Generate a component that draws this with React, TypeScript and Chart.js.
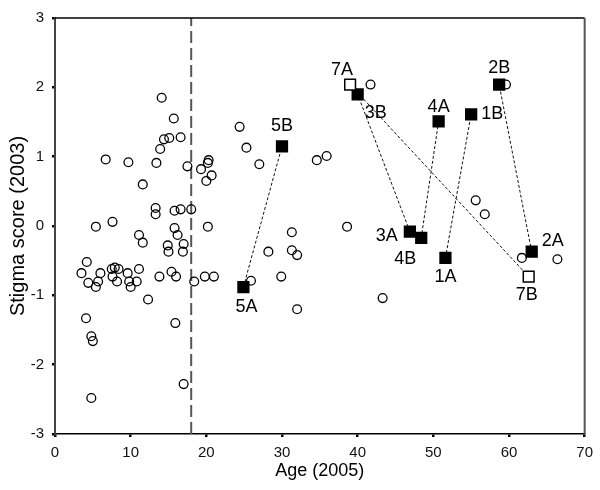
import React, { useEffect, useRef } from "react";
import { Chart, registerables } from "chart.js";

Chart.register(...registerables);

// Open circles: all respondents
const circleAges = [
  14.1, 15.7, 24.4, 14.4, 15.1, 16.6, 25.3, 13.9, 6.7, 9.7, 13.4, 17.5, 20.3, 20.2, 19.3, 20.7, 20.0, 11.6,
  13.3, 13.3, 15.8, 16.6, 18.0, 5.4, 7.6, 15.8, 20.2, 11.1, 11.6, 16.2, 14.9, 15.0, 17.0, 16.9,
  4.2, 3.5, 4.4, 5.4, 5.7, 6.0, 7.5, 7.9, 8.4, 7.6, 8.2, 9.6, 9.8, 10.0, 10.8, 11.1, 12.3, 13.8, 15.4, 16.0,
  15.9, 4.1, 4.8, 5.0, 4.8, 17.0, 18.4, 19.8, 21.0,
  27.0, 34.6, 35.9, 41.7, 31.3, 38.6, 28.2, 31.3, 32.0, 29.9, 25.9, 32.0, 43.3,
  59.6, 55.6, 56.8, 61.7, 66.4,
];
const circleScores = [
  1.85, 1.55, 1.43, 1.25, 1.27, 1.28, 1.13, 1.11, 0.96, 0.92, 0.91, 0.86, 0.95, 0.91, 0.82, 0.73, 0.65, 0.6,
  0.26, 0.17, 0.22, 0.24, 0.24, -0.01, 0.06, -0.03, -0.01, -0.13, -0.24, -0.13, -0.28, -0.37, -0.26, -0.37,
  -0.52, -0.68, -0.82, -0.88, -0.8, -0.68, -0.62, -0.6, -0.62, -0.73, -0.8, -0.68, -0.8, -0.88, -0.8, -0.62, -1.06, -0.73, -0.66, -0.73,
  -1.4, -1.33, -1.59, -1.66, -2.48, -2.28, -0.8, -0.73, -0.73,
  0.89, 0.95, 1.01, 2.04, -0.09, -0.01, -0.37, -0.35, -0.42, -0.73, -0.79, -1.2, -1.04,
  2.04, 0.37, 0.17, -0.46, -0.48,
];

// Paired cases (A and B)
const pairIds = ["1", "2", "3", "4", "5", "7"];
const ageA = [51.6, 63.0, 46.9, 50.7, 24.9, 39.0];
const scoreA = [-0.46, -0.37, -0.08, 1.51, -0.88, 2.04];
const ageB = [55.0, 58.7, 40.0, 48.4, 30.0, 62.6];
const scoreB = [1.61, 2.04, 1.9, -0.17, 1.15, -0.73];
const openPairs = ["7"];

const cutoffAge = 18;
const xTicks = [0, 10, 20, 30, 40, 50, 60, 70];
const yTicks = [-3, -2, -1, 0, 1, 2, 3];

// label offsets in pixels (style)
const labelOffA: Record<string, [number, number]> = {
  "1": [0, 19], "2": [21, -11], "3": [-23, 4], "4": [0, -14], "5": [3, 20], "7": [-8, -15],
};
const labelOffB: Record<string, [number, number]> = {
  "1": [21, 0], "2": [0, -17], "3": [18, 19], "4": [-16, 21], "5": [0, -20], "7": [-2, 18],
};

const FONT = "'Liberation Sans', Arial, Helvetica, sans-serif";

export default function App() {
  const ref = useRef<HTMLCanvasElement>(null);
  useEffect(() => {
    const canvas = ref.current!;
    const squarePts: any[] = [];
    const squareFill: string[] = [];
    const squareLabels: { name: string; off: [number, number] }[] = [];
    pairIds.forEach((id, i) => {
      const open = openPairs.includes(id);
      squarePts.push({ x: ageA[i], y: scoreA[i] });
      squareFill.push(open ? "#fff" : "#000");
      squareLabels.push({ name: id + "A", off: labelOffA[id] });
      squarePts.push({ x: ageB[i], y: scoreB[i] });
      squareFill.push(open ? "#fff" : "#000");
      squareLabels.push({ name: id + "B", off: labelOffB[id] });
    });

    const lineSets = pairIds.map((id, i) => ({
      type: "line" as const,
      data: [
        { x: ageA[i], y: scoreA[i] },
        { x: ageB[i], y: scoreB[i] },
      ],
      showLine: true,
      borderColor: "#111",
      borderWidth: 1,
      borderDash: [3, 2],
      pointRadius: 0,
      fill: false,
    }));

    const frame = {
      id: "frame",
      afterDatasetsDraw(chart: any) {
        const { ctx, chartArea: a } = chart;
        ctx.save();
        ctx.strokeStyle = "#000";
        ctx.lineWidth = 1.5;
        ctx.beginPath();
        ctx.moveTo(a.left, a.top);
        ctx.lineTo(a.right, a.top);
        ctx.stroke();
        ctx.strokeStyle = "#555";
        ctx.lineWidth = 2;
        ctx.beginPath();
        ctx.moveTo(a.right, a.top);
        ctx.lineTo(a.right, a.bottom);
        ctx.stroke();
        ctx.restore();
      },
    };

    const labels = {
      id: "pointLabels",
      afterDatasetsDraw(chart: any) {
        const { ctx } = chart;
        const xs = chart.scales.x;
        const ys = chart.scales.y;
        ctx.save();
        ctx.font = `18px ${FONT}`;
        ctx.fillStyle = "#000";
        ctx.textAlign = "center";
        ctx.textBaseline = "middle";
        squarePts.forEach((p, i) => {
          const px = xs.getPixelForValue(p.x);
          const py = ys.getPixelForValue(p.y);
          const o = squareLabels[i].off;
          ctx.fillText(squareLabels[i].name, px + o[0], py + o[1]);
        });
        ctx.restore();
      },
    };

    const chart = new Chart(canvas, {
      type: "scatter",
      data: {
        datasets: [
          {
            data: squarePts,
            pointStyle: "rect",
            pointRadius: 7.6,
            backgroundColor: squareFill,
            borderColor: "#000",
            borderWidth: 1.5,
          } as any,
          {
            data: circleAges.map((a, i) => ({ x: a, y: circleScores[i] })),
            pointStyle: "circle",
            pointRadius: 4.4,
            backgroundColor: "rgba(0,0,0,0)",
            borderColor: "#000",
            borderWidth: 1.3,
          },
          ...lineSets,
          {
            type: "line",
            data: [
              { x: cutoffAge, y: -3 },
              { x: cutoffAge, y: 3 },
            ],
            showLine: true,
            borderColor: "#555",
            borderWidth: 2,
            borderDash: [12, 5],
            pointRadius: 0,
          } as any,
        ],
      },
      options: {
        animation: false,
        responsive: false,
        events: [],
        layout: { padding: { top: 18, right: 14, left: 0, bottom: 0 } },
        plugins: { legend: { display: false }, tooltip: { enabled: false } },
        scales: {
          x: {
            type: "linear",
            min: 0,
            max: 70,
            afterBuildTicks: (s: any) => {
              s.ticks = xTicks.map((v) => ({ value: v }));
            },
            afterFit: (s: any) => {
              s.height = 56;
            },
            ticks: { font: { family: FONT, size: 15 }, color: "#111", padding: 7 },
            grid: { display: true, drawOnChartArea: false, drawTicks: true, tickLength: 3, color: "#000", lineWidth: 2.5 },
            border: { display: true, color: "#000", width: 1.5 },
            title: {
              display: true,
              text: "Age (2005)",
              font: { family: FONT, size: 18 },
              color: "#000",
              padding: { top: 0, bottom: 8 },
            },
          },
          y: {
            type: "linear",
            min: -3,
            max: 3,
            afterBuildTicks: (s: any) => {
              s.ticks = yTicks.map((v) => ({ value: v }));
            },
            afterFit: (s: any) => {
              s.width = 55;
            },
            ticks: { font: { family: FONT, size: 15 }, color: "#111", padding: 8 },
            grid: { display: true, drawOnChartArea: false, drawTicks: true, tickLength: 3, color: "#000", lineWidth: 2.5 },
            border: { display: true, color: "#444", width: 2 },
            title: {
              display: true,
              text: "Stigma score (2003)",
              font: { family: FONT, size: 20 },
              color: "#000",
              padding: { top: 6, bottom: 0 },
            },
          },
        },
      },
      plugins: [frame, labels],
    } as any);
    return () => chart.destroy();
  }, []);

  return (
    <div style={{ position: "absolute", left: 0, top: 0, width: 600, height: 490, background: "#fff" }}>
      <canvas ref={ref} width={600} height={490} style={{ display: "block" }} />
    </div>
  );
}
